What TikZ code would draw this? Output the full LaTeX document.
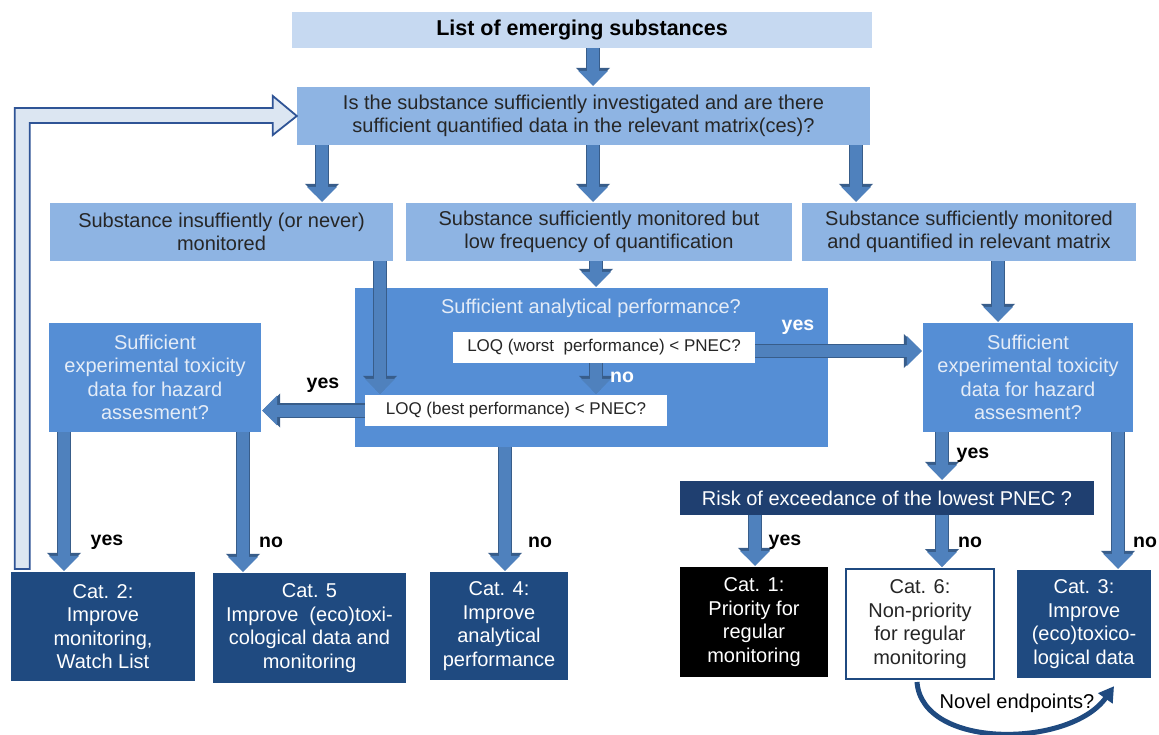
\documentclass[tikz,border=0pt]{standalone}
\usepackage{fontspec}
\setmainfont{Liberation Sans}
\usetikzlibrary{arrows.meta,calc}
\definecolor{topc}{HTML}{C6D9F1}
\definecolor{midc}{HTML}{8EB4E3}
\definecolor{strc}{HTML}{558ED5}
\definecolor{arrf}{HTML}{4F81BD}
\definecolor{arrb}{HTML}{385D8A}
\definecolor{catc}{HTML}{1F4A80}
\definecolor{riskc}{HTML}{1F3F70}
\definecolor{txtd}{HTML}{262626}
\definecolor{txtl}{HTML}{E4ECF7}
\definecolor{fbf}{HTML}{DCE6F2}
\definecolor{fbb}{HTML}{2F5496}
\begin{document}
\begin{tikzpicture}[x=1pt,y=-1pt,
  base/.style={rectangle, inner sep=0pt, align=center, font=\fontsize{20}{23.5}\selectfont},
  lightbox/.style={base, fill=midc, text=txtd},
  strongbox/.style={base, fill=strc, text=txtl},
  catbox/.style={base, fill=catc, text=white},
  loqbox/.style={base, fill=white, text=txtd, font=\fontsize{17}{20}\selectfont},
  barrow/.style={line width=12pt, draw=arrf, shorten >=1pt, -{Triangle[width=29pt,length=15pt]},
     preaction={draw=arrb, line width=14.5pt, -{Triangle[width=33pt,length=18pt]}}},
  fbarrow/.style={draw=fbb, fill=fbf, line width=1.8pt, line join=miter},
  lab/.style={font=\bfseries\fontsize{19.5}{22}\selectfont, text=black, inner sep=0pt},
  wlab/.style={lab, text=white},
]
\fill[white] (0,0) rectangle (1159,735);
\useasboundingbox (0,0) rectangle (1159,735);

% ---- boxes ----
\node[base, fill=topc, text=black, font=\bfseries\fontsize{21.5}{24}\selectfont,
      minimum width=580pt, minimum height=36pt] (top) at (582,30) {List of emerging substances};
\node[lightbox, minimum width=573pt, minimum height=58pt] (q) at (583.5,116)
  {Is the substance sufficiently investigated and are there\\sufficient quantified data in the relevant matrix(ces)?};
\node[lightbox, minimum width=343pt, minimum height=58pt] (lb) at (221.5,232)
  {Substance insuffiently (or never)\\monitored};
\node[lightbox, minimum width=386pt, minimum height=58pt] (mb) at (599,232)
  {Substance sufficiently monitored but\\low frequency of quantification};
\node[lightbox, minimum width=334pt, minimum height=58pt] (rb) at (969,232)
  {Substance sufficiently monitored\\and quantified in relevant matrix};

\node[strongbox, minimum width=473pt, minimum height=159pt] (ana) at (591.5,367.5) {};
\node[base, text=txtl, anchor=center] (anat) at (591,308) {Sufficient analytical performance?};
\node[loqbox, minimum width=302pt, minimum height=31pt] (loqw) at (604,347.5) {LOQ (worst\ \ performance) < PNEC?};
\node[loqbox, minimum width=302pt, minimum height=31pt] (loqb) at (516,410.5) {LOQ (best performance) < PNEC?};

\node[strongbox, minimum width=212pt, minimum height=109pt] (tl) at (155,377.5)
  {Sufficient\\experimental toxicity\\data for hazard\\assesment?};
\node[strongbox, minimum width=210pt, minimum height=109pt] (tr) at (1028,377.5)
  {Sufficient\\experimental toxicity\\data for hazard\\assesment?};

\node[base, fill=riskc, text=white, minimum width=414pt, minimum height=34pt] (risk) at (887,498)
  {Risk of exceedance of the lowest PNEC ?};

% feedback arrow (behind Cat. 2)
\draw[fbarrow] (q.west) -- ++(-24,-20) -- ++(0,12) -| ($(lb.west |- 0,569)+(-35,0)$) -- ++(15,0)
  |- ($(q.west)+(-24,7)$) -- ++(0,12) -- cycle;

\node[catbox, minimum width=184pt, minimum height=109pt] (cat2) at (103,626.5)
  {Cat. 2:\\Improve\\monitoring,\\Watch List};
\node[catbox, minimum width=193pt, minimum height=110pt] (cat5) at (309.5,628)
  {Cat. 5\\Improve\ \ (eco)toxi-\\cological data and\\monitoring};
\node[catbox, minimum width=138pt, minimum height=108pt] (cat4) at (499,626)
  {Cat. 4:\\Improve\\analytical\\performance};
\node[base, fill=black, text=white, minimum width=148pt, minimum height=110pt] (cat1) at (754,622)
  {Cat. 1:\\Priority for\\regular\\monitoring};
\node[base, fill=white, draw=catc, line width=2pt, text=txtd, minimum width=148pt, minimum height=110pt] (cat6) at (920,624)
  {Cat. 6:\\Non-priority\\for regular\\monitoring};
\node[catbox, minimum width=134pt, minimum height=108pt] (cat3) at (1084,624)
  {Cat. 3:\\Improve\\(eco)toxico-\\logical data};

% ---- x positions of block arrows ----
\coordinate (xa) at (593,0);
\coordinate (xl) at (322,0);
\coordinate (xr) at (856,0);
\coordinate (xm) at (596,0);
\coordinate (xd) at (380,0);
\coordinate (xc4) at (505,0);
\coordinate (xt1) at (64,0);
\coordinate (xt2) at (243,0);
\coordinate (xrt) at (998,0);
\coordinate (xry) at (942,0);
\coordinate (xrn) at (1118,0);
\coordinate (xc1) at (755,0);
\coordinate (yw) at (0,351);

% ---- block arrows ----
\draw[barrow] (top.south -| xa) -- (q.north -| xa);
\draw[barrow] (q.south -| xl) -- (lb.north -| xl);
\draw[barrow] (q.south -| xa) -- (mb.north -| xa);
\draw[barrow] (q.south -| xr) -- (rb.north -| xr);
\draw[barrow] (mb.south -| xm) -- (ana.north -| xm);
\draw[barrow] (lb.south -| xd) -- (loqb.north -| xd);
\draw[barrow] (loqw.south -| xm) -- (loqb.north -| xm);
\draw[barrow] (loqw.east |- yw) -- (tr.west |- yw);
\draw[barrow] (loqb.west) -- (tl.east |- loqb.west);
\draw[barrow] (ana.south -| xc4) -- (cat4.north -| xc4);
\draw[barrow] (tl.south -| xt1) -- (cat2.north -| xt1);
\draw[barrow] (tl.south -| xt2) -- (cat5.north -| xt2);
\draw[barrow] (rb.south -| xrt) -- (tr.north -| xrt);
\draw[barrow] (tr.south -| xry) -- (risk.north -| xry);
\draw[barrow] (tr.south -| xrn) -- (cat3.north -| xrn);
\draw[barrow] (risk.south -| xc1) -- (cat1.north -| xc1);
\draw[barrow] (risk.south -| xry) -- (cat6.north -| xry);

% ---- curved arrow ----
\node[base, text=black] (novel) at (1017,703) {Novel endpoints?};
\draw[catc, line width=5pt, -{Triangle[width=17pt,length=15pt]}]
  ($(cat6.south)+(-3,2)$) .. controls (922,750) and (1070,748) .. ($(cat3.south)+(30,8)$);

% ---- labels ----
\node[wlab] (l1) at (798,327) {yes};
\node[wlab] (l2) at (622,377) {no};
\node[lab] (l3) at (323,385) {yes};
\node[lab] (l4) at (107,542) {yes};
\node[lab] (l5) at (271,542) {no};
\node[lab] (l6) at (540,542) {no};
\node[lab] (l7) at (973,455) {yes};
\node[lab] (l8) at (785,542) {yes};
\node[lab] (l9) at (970,542) {no};
\node[lab] (l10) at (1145,542) {no};
\end{tikzpicture}
\end{document}
